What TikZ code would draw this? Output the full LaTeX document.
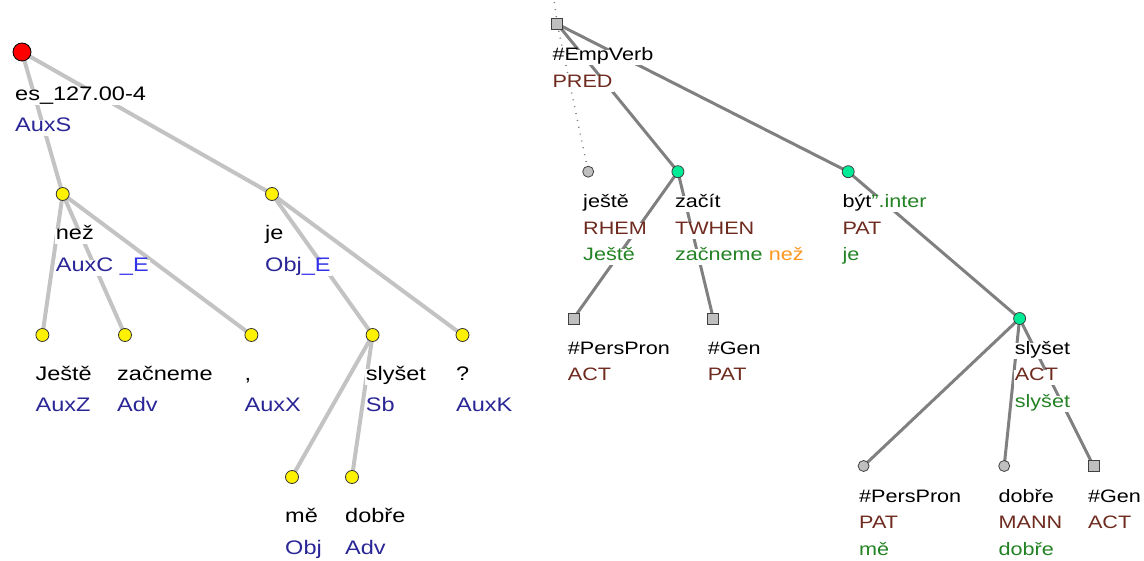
\documentclass[tikz,border=0pt]{standalone}
\usepackage{fontspec}
\setmainfont{Liberation Sans}[FakeStretch=1.2]
\usetikzlibrary{backgrounds}
\definecolor{ablue}{RGB}{42,38,150}
\definecolor{eblue}{RGB}{50,50,235}
\definecolor{tbrown}{RGB}{110,42,30}
\definecolor{tgreen}{RGB}{35,130,35}
\definecolor{torange}{RGB}{255,150,30}
\definecolor{nodegreen}{RGB}{0,235,150}
\definecolor{aedgecol}{RGB}{195,195,195}
\definecolor{tedgecol}{RGB}{128,128,128}
\begin{document}
\begin{tikzpicture}[x=1pt,y=-1pt,
 aedge/.style={draw=aedgecol,line width=4pt},
 tedge/.style={draw=tedgecol,line width=3pt},
 tdot/.style={draw=tedgecol,line width=1.5pt,dash pattern=on 1pt off 6pt},
 anode/.style={circle,draw=black!80,line width=0.8pt,fill=yellow,minimum size=13pt,inner sep=0pt},
 aroot/.style={circle,draw=black,line width=0.8pt,fill=red,minimum size=18pt,inner sep=0pt},
 tsq/.style={rectangle,draw=black!75,line width=0.8pt,fill=black!25,minimum size=11pt,inner sep=0pt},
 tcirc/.style={circle,draw=black!75,line width=0.8pt,fill=black!25,minimum size=11pt,inner sep=0pt},
 tgcirc/.style={circle,draw=black!75,line width=0.8pt,fill=nodegreen,minimum size=12pt,inner sep=0pt},
 alab/.style={anchor=base west,fill=white,inner xsep=1pt,inner ysep=2pt,text height=0.92em,text depth=0.24em,font=\fontsize{19.6}{22}\selectfont},
 tlab/.style={anchor=base west,fill=white,inner xsep=1pt,inner ysep=2pt,text height=0.92em,text depth=0.24em,font=\fontsize{18}{21}\selectfont},
]
\useasboundingbox (0,0) rectangle (1144,561);

% ---------- left tree (analytical) ----------
\node[aroot] (aroot) at (22,52) {};
\node[anode] (anez) at (62.7,194) {};
\node[anode] (aje) at (272,194) {};
\node[anode] (ajeste) at (42.4,335) {};
\node[anode] (azacneme) at (125,335) {};
\node[anode] (acomma) at (251.4,335) {};
\node[anode] (aslyset) at (372.6,335) {};
\node[anode] (aq) at (462.5,335) {};
\node[anode] (ame) at (292,477) {};
\node[anode] (adobre) at (352,477) {};

\begin{pgfonlayer}{background}
\draw[aedge] (aroot.center) -- (anez.center);
\draw[aedge] (aroot.center) -- (aje.center);
\draw[aedge] (anez.center) -- (ajeste.center);
\draw[aedge] (anez.center) -- (azacneme.center);
\draw[aedge] (anez.center) -- (acomma.center);
\draw[aedge] (aje.center) -- (aslyset.center);
\draw[aedge] (aje.center) -- (aq.center);
\draw[aedge] (aslyset.center) -- (ame.center);
\draw[aedge] (aslyset.center) -- (adobre.center);
\end{pgfonlayer}

\node[alab] (lroot1) at (14,100.5) {es\_127.00-4};
\node[alab,text=ablue] (lroot2) at (14,131.5) {AuxS};
\node[alab] (lnez1) at (54.7,240) {než};
\node[alab] (lnez2) at (54.7,271.5) {\textcolor{ablue}{AuxC} \textcolor{eblue}{\_E}};
\node[alab] (lje1) at (264,240) {je};
\node[alab] (lje2) at (264,271.5) {\textcolor{ablue}{Obj}\textcolor{eblue}{\_E}};
\node[alab] (ljeste1) at (34.4,380.5) {Ještě};
\node[alab,text=ablue] (ljeste2) at (34.4,412) {AuxZ};
\node[alab] (lzac1) at (116,380.5) {začneme};
\node[alab,text=ablue] (lzac2) at (116,412) {Adv};
\node[alab] (lcomma1) at (243.5,380.5) {,};
\node[alab,text=ablue] (lcomma2) at (243.5,412) {AuxX};
\node[alab] (lsly1) at (364.7,380.5) {slyšet};
\node[alab,text=ablue] (lsly2) at (364.7,412) {Sb};
\node[alab] (lq1) at (455,380.5) {?};
\node[alab,text=ablue] (lq2) at (455,412) {AuxK};
\node[alab] (lme1) at (284,522.5) {mě};
\node[alab,text=ablue] (lme2) at (284,554) {Obj};
\node[alab] (ldob1) at (344,522.5) {dobře};
\node[alab,text=ablue] (ldob2) at (344,554) {Adv};

% ---------- right tree (tectogrammatical) ----------
\node[tsq] (troot) at (557.3,24) {};
\node[tcirc] (tjeste) at (588.2,171.7) {};
\node[tgcirc] (tzacit) at (677.9,171.7) {};
\node[tgcirc] (tbyt) at (848.2,171.7) {};
\node[tsq] (tpp1) at (573.5,318.5) {};
\node[tsq] (tgen1) at (713.3,318.5) {};
\node[tgcirc] (tslyset) at (1019.6,318.5) {};
\node[tcirc] (tpp2) at (863.6,466) {};
\node[tcirc] (tdobre) at (1004.2,466) {};
\node[tsq] (tgen2) at (1093.5,466) {};
\coordinate (ttop) at (554,0);

\begin{pgfonlayer}{background}
\draw[tdot] (troot.center) -- (ttop);
\draw[tdot] (troot.center) -- (tjeste.center);
\draw[tedge] (troot.center) -- (tzacit.center);
\draw[tedge] (troot.center) -- (tbyt.center);
\draw[tedge] (tzacit.center) -- (tpp1.center);
\draw[tedge] (tzacit.center) -- (tgen1.center);
\draw[tedge] (tbyt.center) -- (tslyset.center);
\draw[tedge] (tslyset.center) -- (tpp2.center);
\draw[tedge] (tslyset.center) -- (tdobre.center);
\draw[tedge] (tslyset.center) -- (tgen2.center);
\end{pgfonlayer}

\node[tlab] (rroot1) at (551.3,61) {\#EmpVerb};
\node[tlab,text=tbrown] (rroot2) at (551.3,87.5) {PRED};
\node[tlab] (rjes1) at (582,207.7) {ještě};
\node[tlab,text=tbrown] (rjes2) at (582,234.2) {RHEM};
\node[tlab,text=tgreen] (rjes3) at (582,260.7) {Ještě};
\node[tlab] (rzac1) at (673.9,207.7) {začít};
\node[tlab,text=tbrown] (rzac2) at (673.9,234.2) {TWHEN};
\node[tlab] (rzac3) at (673.9,260.7) {\textcolor{tgreen}{začneme} \textcolor{torange}{než}};
\node[tlab] (rbyt1) at (841.4,207.7) {být\textcolor{tgreen}{".inter}};
\node[tlab,text=tbrown] (rbyt2) at (841.4,234.2) {PAT};
\node[tlab,text=tgreen] (rbyt3) at (841.4,260.7) {je};
\node[tlab] (rpp11) at (566.7,354.5) {\#PersPron};
\node[tlab,text=tbrown] (rpp12) at (566.7,381) {ACT};
\node[tlab] (rgen11) at (706.6,354.5) {\#Gen};
\node[tlab,text=tbrown] (rgen12) at (706.6,381) {PAT};
\node[tlab] (rsly1) at (1013.6,354.5) {slyšet};
\node[tlab,text=tbrown] (rsly2) at (1013.6,381) {ACT};
\node[tlab,text=tgreen] (rsly3) at (1013.6,407.5) {slyšet};
\node[tlab] (rpp21) at (858,502) {\#PersPron};
\node[tlab,text=tbrown] (rpp22) at (858,528.5) {PAT};
\node[tlab,text=tgreen] (rpp23) at (858,555) {mě};
\node[tlab] (rdob1) at (997.4,502) {dobře};
\node[tlab,text=tbrown] (rdob2) at (997.4,528.5) {MANN};
\node[tlab,text=tgreen] (rdob3) at (997.4,555) {dobře};
\node[tlab] (rgen21) at (1086.8,502) {\#Gen};
\node[tlab,text=tbrown] (rgen22) at (1086.8,528.5) {ACT};
\end{tikzpicture}
\end{document}
